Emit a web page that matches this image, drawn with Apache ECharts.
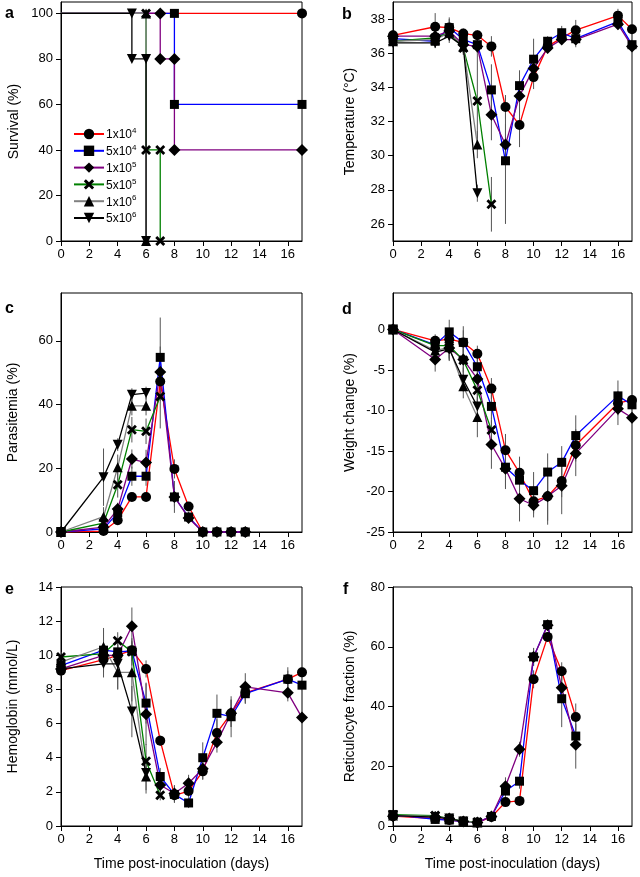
<!DOCTYPE html>
<html><head><meta charset="utf-8">
<script src="https://cdn.jsdelivr.net/npm/echarts@6/dist/echarts.min.js"></script>
<style>html,body{margin:0;padding:0;background:#fff}#c{width:640px;height:877px}</style>
</head><body><div id="c"></div>
<script>
// ---------- categories ----------
const groupNames = ['1x10^4', '5x10^4', '1x10^5', '5x10^5', '1x10^6', '5x10^6'];
const xTicks = [0, 2, 4, 6, 8, 10, 12, 14, 16];

// ---------- a: survival (step corner points) ----------
const survX_1e4 = [0, 17];             const survY_1e4 = [100, 100];
const survX_5e4 = [0, 8, 8, 17];       const survY_5e4 = [100, 100, 60, 60];
const survX_1e5 = [0, 7, 7, 8, 8, 17]; const survY_1e5 = [100, 100, 80, 80, 40, 40];
const survX_5e5 = [0, 6, 6, 7, 7];     const survY_5e5 = [100, 100, 40, 40, 0];
const survX_1e6 = [0, 6, 6];           const survY_1e6 = [100, 100, 0];
const survX_5e6 = [0, 5, 5, 6, 6];     const survY_5e6 = [100, 100, 80, 80, 0];
const survTicks = [0, 20, 40, 60, 80, 100];

// ---------- days ----------
const daysFull = [0, 3, 4, 5, 6, 7, 8, 9, 10, 11, 12, 13, 16, 17];
const daysShort = [0, 3, 4, 5, 6, 7, 8, 9, 10, 11, 12, 13];

// ---------- b: temperature ----------
const temp_1e4 = [37.05, 37.55, 37.5, 37.15, 37.05, 36.4, 32.85, 31.8, 34.6, 36.4, 36.9, 37.35, 38.2, 37.4];
const temp_5e4 = [36.85, 36.7, 37.5, 36.8, 36.5, 33.85, 29.7, 34.1, 35.65, 36.7, 37.2, 36.85, 37.85, 36.5];
const temp_1e5 = [37.0, 37.0, 37.3, 36.5, 36.4, 32.4, 30.65, 33.5, 35.1, 36.3, 36.8, 36.8, 37.7, 36.4];
const temp_5e5 = [36.7, 36.9, 37.2, 36.3, 33.2, 27.15];
const temp_1e6 = [36.7, 36.8, 37.2, 36.4, 30.65];
const temp_5e6 = [36.6, 36.6, 37.0, 36.4, 27.8];
const tempErr_1e4 = [0.2, 0.8, 0.6, 0.3, 0.3, 0.6, 0.7, 1.3, 0.7, 0.3, 0.3, 0.6, 0.4, 0.2];
const tempErr_5e4 = [0.3, 0.4, 0.5, 0.5, 0.5, 1.5, 3.7, 0.9, 1.2, 0.3, 0.4, 0.5, 0.3, 0.3];
const tempErr_1e5 = [0.2, 0.3, 0.4, 0.4, 0.4, 1.5, 1.2, 1.0, 0.8, 0.3, 0.3, 0.3, 0.3, 0.2];
const tempErr_5e5 = [0.2, 0.3, 0.4, 0.4, 2.8, 1.6];
const tempErr_1e6 = [0.2, 0.3, 0.4, 0.4, 0.8];
const tempErr_5e6 = [0.2, 0.3, 0.4, 0.4, 0.5];
const tempTicks = [26, 28, 30, 32, 34, 36, 38];

// ---------- c: parasitemia ----------
const para_1e4 = [0, 0.3, 3.7, 11.0, 11.0, 47.2, 19.8, 8.0, 0, 0, 0, 0];
const para_5e4 = [0, 1.0, 6.0, 17.5, 17.5, 54.8, 11.0, 4.7, 0, 0, 0, 0];
const para_1e5 = [0, 1.5, 7.2, 22.9, 21.8, 50.2, 11.0, 4.4, 0, 0, 0, 0];
const para_5e5 = [0, 2.8, 14.8, 32.1, 31.6, 42.5];
const para_1e6 = [0, 4.8, 20.3, 39.6, 39.6];
const para_5e6 = [0, 17.2, 27.4, 43.1, 43.6];
const paraErr_1e4 = [0, 0.3, 1, 1, 1, 6, 3, 1, 0, 0, 0, 0];
const paraErr_5e4 = [0, 0.5, 2, 3, 3, 12.5, 5, 1, 0, 0, 0, 0];
const paraErr_1e5 = [0, 0.8, 2, 3, 4, 8, 3, 1, 0, 0, 0, 0];
const paraErr_5e5 = [0, 1.5, 4, 4, 4, 10];
const paraErr_1e6 = [0, 3, 4, 3, 3];
const paraErr_5e6 = [0, 9, 2, 2, 2];
const paraTicks = [0, 20, 40, 60];

// ---------- d: weight change ----------
const wt_1e4 = [0, -1.4, -1.2, -1.6, -3.0, -7.3, -14.9, -17.7, -21.2, -20.6, -18.7, -14.3, -9.1, -8.7];
const wt_5e4 = [0, -1.9, -0.3, -1.6, -4.6, -9.5, -17.0, -18.6, -19.9, -17.6, -16.4, -13.1, -8.2, -9.3];
const wt_1e5 = [0, -3.7, -2.3, -3.7, -6.1, -14.2, -17.2, -20.9, -21.7, -20.6, -19.3, -15.3, -9.8, -10.9];
const wt_5e5 = [0, -2.0, -2.0, -3.8, -7.5, -12.4];
const wt_1e6 = [0, -2.6, -2.2, -7.0, -10.8];
const wt_5e6 = [0, -2.8, -2.4, -6.2, -9.5];
const wtErr_1e4 = [0, 0.8, 1.2, 1.5, 1.0, 1.3, 2, 2, 1.5, 3.5, 2, 2, 1.5, 0.6];
const wtErr_5e4 = [0, 0.8, 1.5, 2, 1.5, 1.5, 2.5, 2, 2.3, 2.3, 2, 2.5, 1.9, 0.6];
const wtErr_1e5 = [0, 1.5, 1.5, 2, 2, 3, 2.5, 2.8, 1.5, 3, 3.5, 2.8, 2, 0.6];
const wtErr_5e5 = [0, 1, 1.5, 1.5, 1.5, 1.5];
const wtErr_1e6 = [0, 1, 1.5, 1.5, 2.5];
const wtErr_5e6 = [0, 1, 1.5, 1.5, 1.5];
const wtTicks = [-25, -20, -15, -10, -5, 0];

// ---------- e: hemoglobin ----------
const hb_1e4 = [9.1, 9.75, 10.0, 10.3, 9.2, 5.0, 1.8, 2.05, 3.2, 5.45, 6.6, 7.8, 8.6, 9.0];
const hb_5e4 = [9.4, 10.3, 10.2, 10.25, 7.2, 2.9, 1.85, 1.35, 4.0, 6.6, 6.4, 7.75, 8.6, 8.25];
const hb_1e5 = [9.2, 10.0, 10.0, 11.7, 6.55, 2.4, 1.9, 2.5, 3.35, 4.9, 6.6, 8.15, 7.8, 6.35];
const hb_5e5 = [9.9, 10.1, 10.85, 10.2, 3.8, 1.8];
const hb_1e6 = [9.6, 10.5, 9.0, 9.0, 2.9];
const hb_5e6 = [9.2, 9.5, 9.5, 6.7, 3.1];
const hbErr_1e4 = [0.3, 0.6, 0.5, 0.5, 0.5, 0.3, 0.3, 0.4, 0.5, 0.8, 0.8, 0.6, 0.5, 0.3];
const hbErr_5e4 = [0.3, 1.3, 0.5, 0.6, 1.2, 0.5, 0.5, 0.3, 0.9, 1.1, 1.2, 0.6, 0.7, 0.3];
const hbErr_1e5 = [0.3, 0.8, 0.6, 1.1, 1.8, 0.5, 0.5, 0.5, 0.6, 0.6, 0.8, 0.8, 0.5, 0.3];
const hbErr_5e5 = [0.3, 0.6, 0.5, 0.8, 1.0, 0.3];
const hbErr_1e6 = [0.3, 1.0, 1.0, 1.7, 1.0];
const hbErr_5e6 = [0.3, 0.8, 1.5, 1.5, 1.0];
const hbTicks = [0, 2, 4, 6, 8, 10, 12, 14];

// ---------- f: reticulocytes ----------
const ret_1e4 = [3.3, 2.5, 2.0, 1.5, 1.2, 3.0, 8.0, 8.4, 49.1, 63.3, 51.8, 36.5];
const ret_5e4 = [3.8, 2.2, 2.0, 1.5, 1.2, 3.2, 11.7, 15.0, 56.6, 67.4, 42.6, 30.1];
const ret_1e5 = [3.3, 3.0, 2.5, 1.5, 1.2, 3.2, 13.3, 25.7, 56.6, 67.2, 46.3, 27.2];
const ret_5e5 = [3.8, 3.5, 2.5, 1.6, 1.3];
const ret_1e6 = [3.5, 3.2, 2.5, 1.5, 1.2];
const ret_5e6 = [3.5, 3.0, 2.5, 1.5];
const retErr_1e4 = [0.5, 0.5, 0.5, 0.4, 0.3, 0.5, 1, 1, 3, 1.5, 3, 4.5];
const retErr_5e4 = [0.5, 0.5, 0.5, 0.4, 0.3, 0.5, 3, 2.5, 3, 1.5, 9.5, 4];
const retErr_1e5 = [0.5, 0.5, 0.5, 0.4, 0.3, 0.5, 3, 2.5, 3, 1.5, 4, 8];
const retErr_5e5 = [0.5, 0.5, 0.5, 0.4, 0.3];
const retErr_1e6 = [0.5, 0.5, 0.5, 0.4, 0.3];
const retErr_5e6 = [0.5, 0.5, 0.5, 0.4];
const retTicks = [0, 20, 40, 60, 80];

// ---------- styling ----------
const FONT = '"Liberation Sans", Arial, sans-serif';
const lineColors = ['#ff0000', '#0000ff', '#800080', '#008000', '#808080', '#000000'];
const X_PATH = 'path://M0,2 L2,0 L5,3 L8,0 L10,2 L7,5 L10,8 L8,10 L5,7 L2,10 L0,8 L3,5 Z';
const DOWN_TRI = 'path://M0,0 L10,0 L5,9 Z';
const symbols = ['circle', 'rect', 'diamond', X_PATH, 'triangle', DOWN_TRI];
const symbolSizes = [10, 9, 12, 10, 10, 10];

const grids = [
  { left: 61, top: 2, width: 241, height: 239 },
  { left: 393, top: 2, width: 239, height: 239 },
  { left: 61, top: 293, width: 241, height: 239 },
  { left: 393, top: 293, width: 239, height: 239 },
  { left: 61, top: 587, width: 241, height: 239 },
  { left: 393, top: 587, width: 239, height: 239 }
].map(g => Object.assign({ show: true, borderColor: '#000', borderWidth: 1, containLabel: false }, g));

function xAx(i, withName) {
  const ax = {
    type: 'value', gridIndex: i, min: 0, max: 17,
    axisLine: { show: true, onZero: false, lineStyle: { color: '#000', width: 1 } },
    axisTick: { show: true, length: 5, lineStyle: { color: '#000' }, customValues: xTicks },
    axisLabel: { color: '#000', fontSize: 13, fontFamily: FONT, margin: 7, customValues: xTicks },
    splitLine: { show: false }
  };
  if (withName) {
    ax.name = 'Time post-inoculation (days)';
    ax.nameLocation = 'middle';
    ax.nameGap = 31;
    ax.nameTextStyle = { color: '#000', fontSize: 14, fontFamily: FONT };
  }
  return ax;
}
function yAx(i, name, min, max, ticks, gap) {
  return {
    type: 'value', gridIndex: i, min: min, max: max,
    name: name, nameLocation: 'middle', nameGap: gap,
    nameTextStyle: { color: '#000', fontSize: 14, fontFamily: FONT },
    axisLine: { show: true, onZero: false, lineStyle: { color: '#000', width: 1 } },
    axisTick: { show: true, length: 5, lineStyle: { color: '#000' }, customValues: ticks },
    axisLabel: { color: '#000', fontSize: 13, fontFamily: FONT, margin: 8, customValues: ticks },
    splitLine: { show: false }
  };
}

const xAxes = [0, 1, 2, 3, 4, 5].map(i => xAx(i, i >= 4));
const yAxes = [
  yAx(0, 'Survival (%)', 0, 105, survTicks, 40),
  yAx(1, 'Temperature (°C)', 25, 39, tempTicks, 36),
  yAx(2, 'Parasitemia (%)', 0, 75, paraTicks, 41),
  yAx(3, 'Weight change (%)', -25, 4.5, wtTicks, 36),
  yAx(4, 'Hemoglobin (mmol/L)', 0, 14, hbTicks, 41),
  yAx(5, 'Reticulocyte fraction (%)', 0, 80, retTicks, 36)
];

const series = [];

// panel a: survival step lines (legend source)
const survXs = [survX_1e4, survX_5e4, survX_1e5, survX_5e5, survX_1e6, survX_5e6];
const survYs = [survY_1e4, survY_5e4, survY_1e5, survY_5e5, survY_1e6, survY_5e6];
groupNames.forEach((nm, k) => {
  const data = survXs[k].map((x, j) => j === 0 ? { value: [x, survYs[k][j]], symbol: 'none' } : [x, survYs[k][j]]);
  series.push({
    name: nm, type: 'line', xAxisIndex: 0, yAxisIndex: 0, data: data,
    symbol: symbols[k], symbolSize: symbolSizes[k], showSymbol: true,
    itemStyle: { color: '#000', opacity: 1 }, lineStyle: { color: lineColors[k], width: 1.3 },
    z: 2, animation: false
  });
});

function errSeries(idx, days, vals, errs) {
  const data = [];
  vals.forEach((v, i) => { if (errs[i] > 0) data.push([days[i], v - errs[i], v + errs[i]]); });
  return {
    type: 'custom', xAxisIndex: idx, yAxisIndex: idx, z: 1, silent: true, clip: true,
    data: data, encode: { x: 0, y: [1, 2] },
    renderItem: (params, api) => {
      const p1 = api.coord([api.value(0), api.value(1)]);
      const p2 = api.coord([api.value(0), api.value(2)]);
      return { type: 'line', shape: { x1: p1[0], y1: p1[1], x2: p2[0], y2: p2[1] }, style: { stroke: '#555', lineWidth: 1 } };
    },
    animation: false
  };
}

function addPanel(idx, days, valsList, errList) {
  valsList.forEach((vals, k) => series.push(errSeries(idx, days, vals, errList[k])));
  valsList.forEach((vals, k) => {
    series.push({
      name: 'p' + idx + '_' + groupNames[k], type: 'line', xAxisIndex: idx, yAxisIndex: idx,
      data: vals.map((v, i) => [days[i], v]), showSymbol: false, symbol: 'none',
      lineStyle: { color: lineColors[k], width: 1.3 }, z: 2, animation: false, silent: true
    });
  });
  valsList.forEach((vals, k) => {
    series.push({
      name: 's' + idx + '_' + groupNames[k], type: 'scatter', xAxisIndex: idx, yAxisIndex: idx,
      data: vals.map((v, i) => [days[i], v]), symbol: symbols[k], symbolSize: symbolSizes[k],
      itemStyle: { color: '#000', opacity: 1 }, z: 3, animation: false, silent: true
    });
  });
}

addPanel(1, daysFull, [temp_1e4, temp_5e4, temp_1e5, temp_5e5, temp_1e6, temp_5e6],
  [tempErr_1e4, tempErr_5e4, tempErr_1e5, tempErr_5e5, tempErr_1e6, tempErr_5e6]);
addPanel(2, daysShort, [para_1e4, para_5e4, para_1e5, para_5e5, para_1e6, para_5e6],
  [paraErr_1e4, paraErr_5e4, paraErr_1e5, paraErr_5e5, paraErr_1e6, paraErr_5e6]);
addPanel(3, daysFull, [wt_1e4, wt_5e4, wt_1e5, wt_5e5, wt_1e6, wt_5e6],
  [wtErr_1e4, wtErr_5e4, wtErr_1e5, wtErr_5e5, wtErr_1e6, wtErr_5e6]);
addPanel(4, daysFull, [hb_1e4, hb_5e4, hb_1e5, hb_5e5, hb_1e6, hb_5e6],
  [hbErr_1e4, hbErr_5e4, hbErr_1e5, hbErr_5e5, hbErr_1e6, hbErr_5e6]);
addPanel(5, daysShort, [ret_1e4, ret_5e4, ret_1e5, ret_5e5, ret_1e6, ret_5e6],
  [retErr_1e4, retErr_5e4, retErr_1e5, retErr_5e5, retErr_1e6, retErr_5e6]);

const letters = [['a', 5, 6], ['b', 342, 7], ['c', 5, 301], ['d', 342, 302], ['e', 5, 582], ['f', 343, 582]];

const chart = echarts.init(document.getElementById('c'), null, { renderer: 'canvas' });
chart.setOption({
  backgroundColor: '#fff',
  animation: false,
  grid: grids,
  xAxis: xAxes,
  yAxis: yAxes,
  legend: {
    data: groupNames, orient: 'vertical', left: 68, top: 122,
    itemWidth: 30, itemHeight: 13, itemGap: 2.8, selectedMode: false,
    formatter: n => { const p = n.split('^'); return '{b|' + p[0] + '}{s|' + p[1] + '}'; },
    textStyle: {
      color: '#000', fontFamily: FONT, fontSize: 12, padding: [0, 0, 0, -3],
      rich: {
        b: { fontSize: 12, fontFamily: FONT, color: '#000', lineHeight: 14, verticalAlign: 'bottom' },
        s: { fontSize: 8, fontFamily: FONT, color: '#000', lineHeight: 14, verticalAlign: 'top' }
      }
    }
  },
  graphic: letters.map(l => ({
    type: 'text', left: l[1], top: l[2],
    style: { text: l[0], font: 'bold 16px ' + FONT, fill: '#000' }
  })),
  series: series
});
</script>
</body></html>
